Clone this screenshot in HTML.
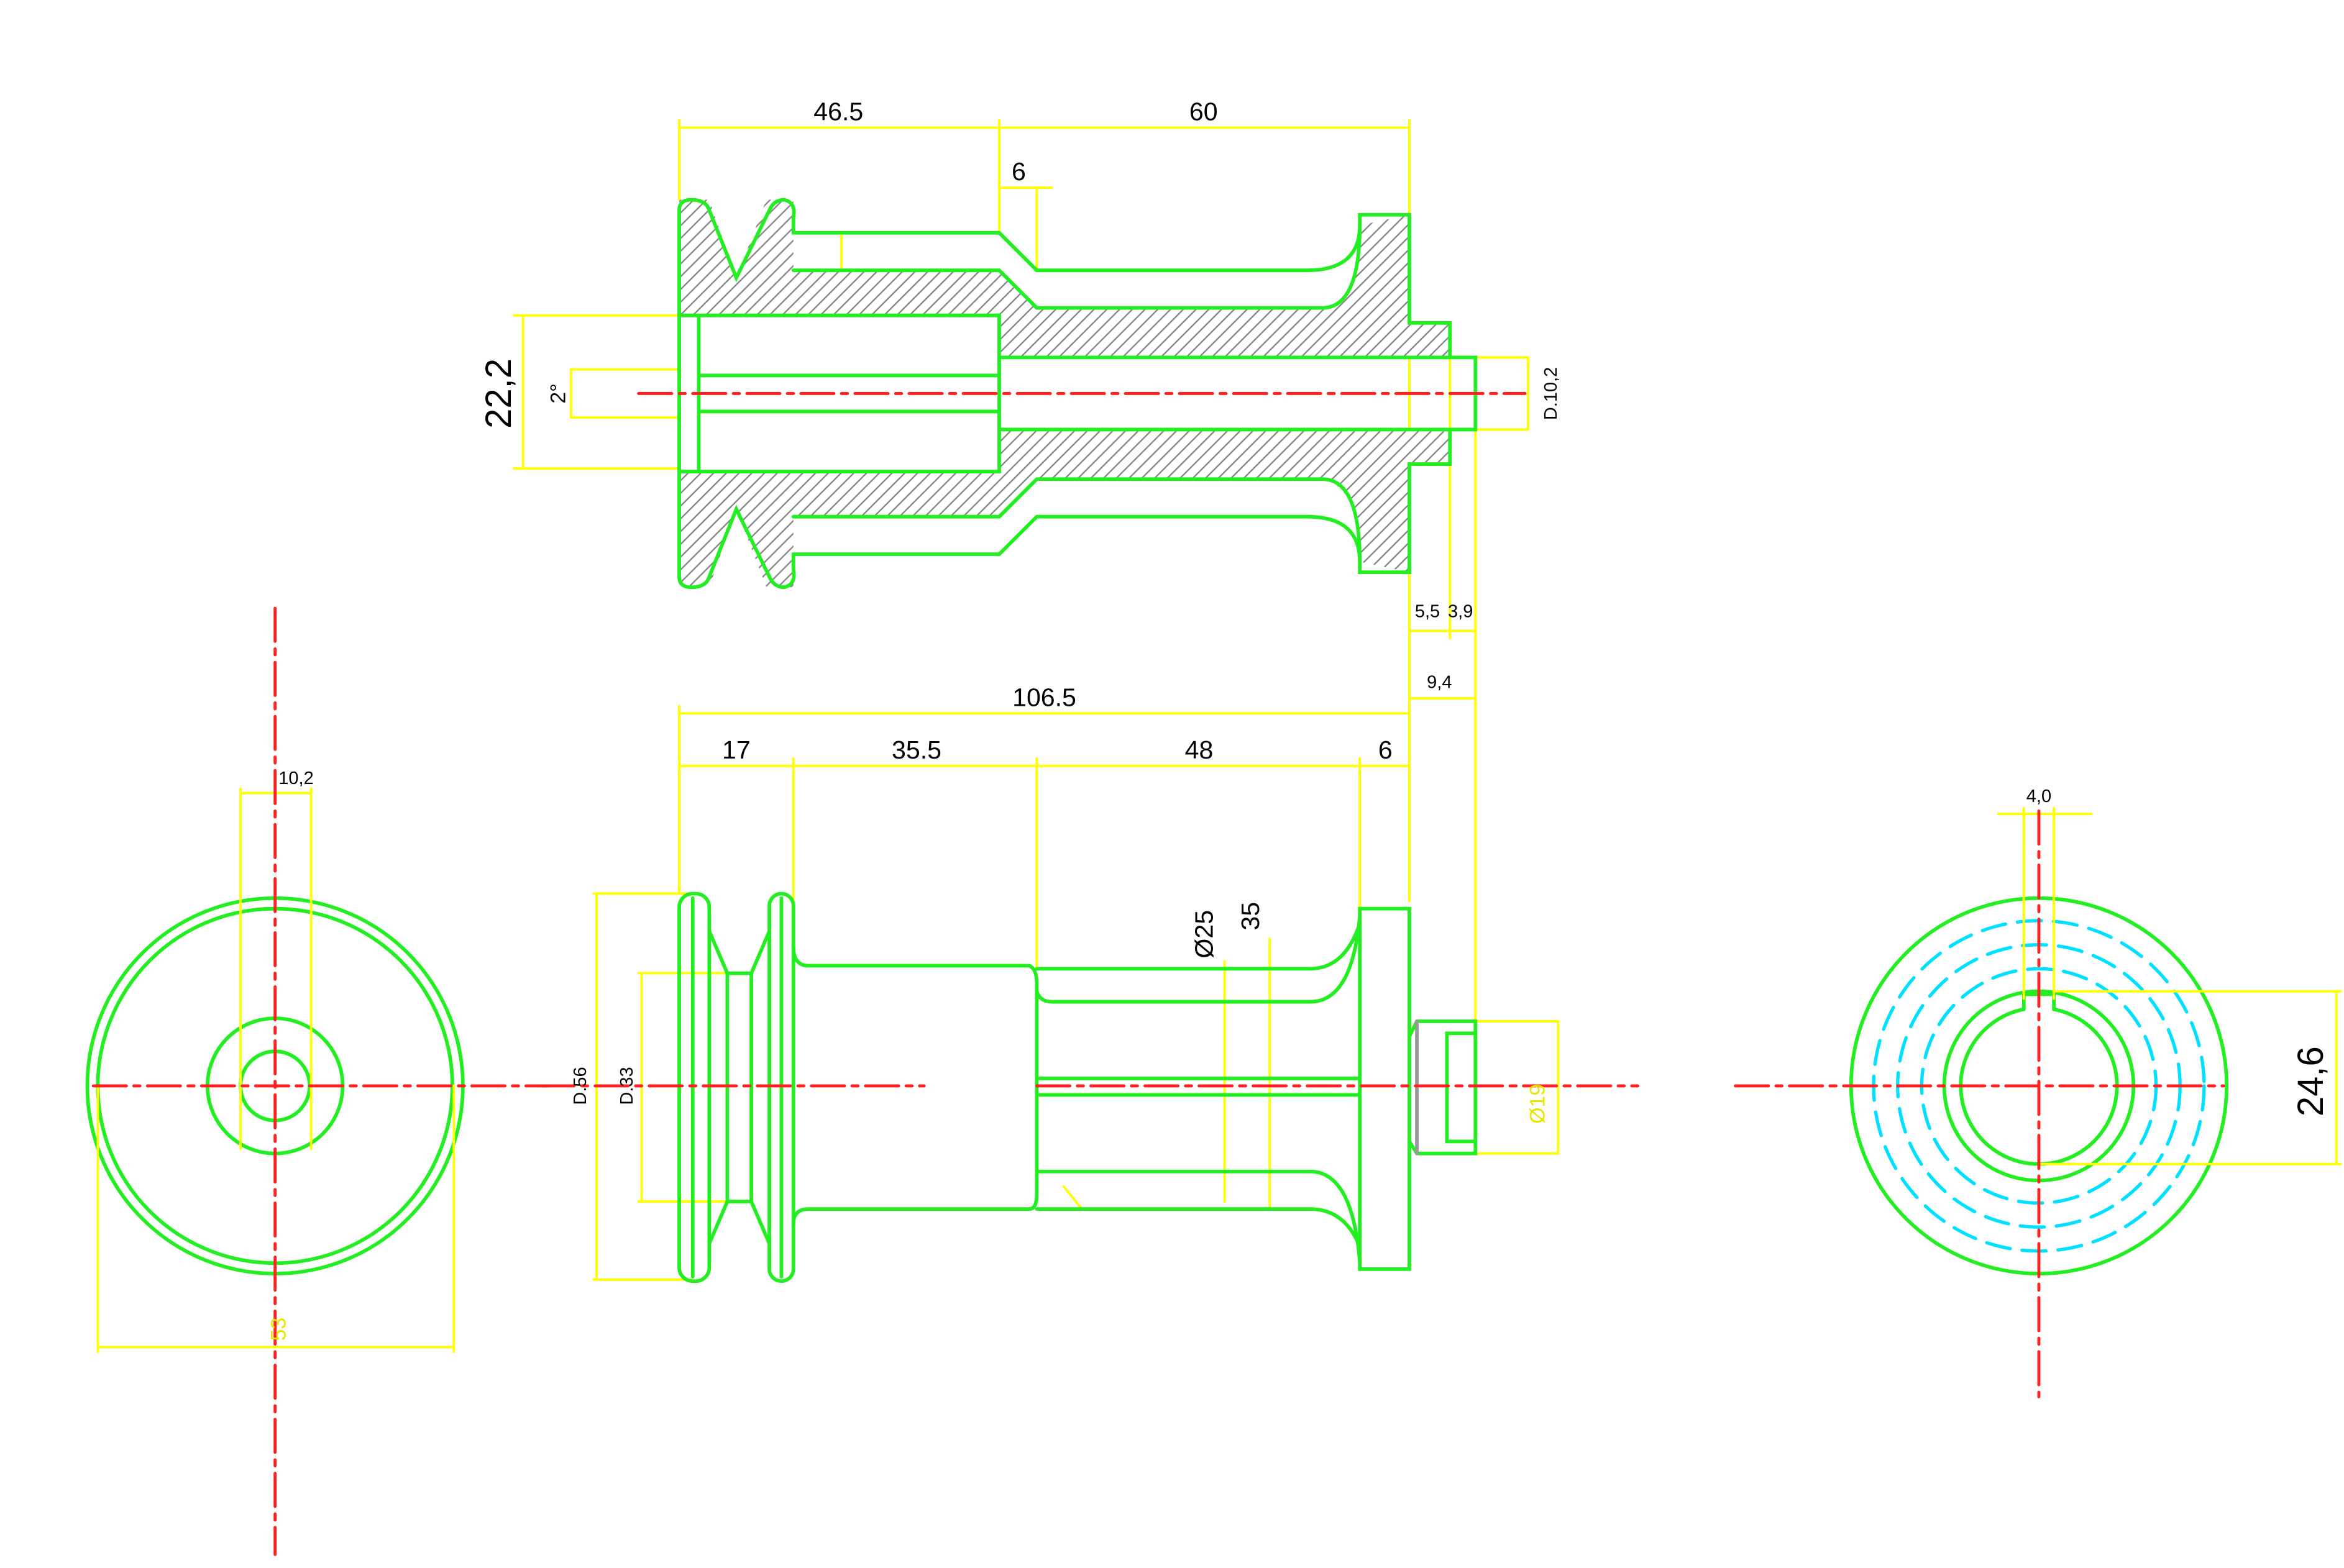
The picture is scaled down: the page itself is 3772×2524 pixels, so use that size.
<!DOCTYPE html>
<html><head><style>html,body{margin:0;padding:0;background:#fff}svg{display:block}</style></head>
<body>
<svg width="3772" height="2524" viewBox="0 0 1560 1044" xmlns="http://www.w3.org/2000/svg" font-family="Liberation Sans, sans-serif">
<defs>
<pattern id="h" width="6" height="6" patternUnits="userSpaceOnUse" patternTransform="rotate(45)">
<rect width="6" height="6" fill="#fff"/><line x1="0" y1="0" x2="0" y2="6" stroke="#888" stroke-width="2"/>
</pattern>
</defs>
<g fill="none" stroke-linecap="round">
<!-- TOP SECTION -->
<g stroke="#ffff00" stroke-width="1.6">
<line x1="452" y1="85" x2="938" y2="85"/><line x1="452" y1="80" x2="452" y2="133"/><line x1="938" y1="80" x2="938" y2="143"/><line x1="665" y1="80" x2="665" y2="155"/>
<line x1="665" y1="125" x2="700" y2="125"/><line x1="690" y1="125" x2="690" y2="180"/>
<line x1="348" y1="210" x2="348" y2="312"/><line x1="342" y1="210" x2="452" y2="210"/><line x1="342" y1="312" x2="452" y2="312"/>
<line x1="380" y1="246" x2="380" y2="278"/><line x1="380" y1="246" x2="452" y2="246"/><line x1="380" y1="278" x2="452" y2="278"/>
<rect x="965" y="238" width="52" height="48"/>
<line x1="938" y1="143" x2="938" y2="600"/><line x1="965" y1="290" x2="965" y2="425"/><line x1="982" y1="285" x2="982" y2="680"/>
<line x1="938" y1="420" x2="982" y2="420"/><line x1="938" y1="465" x2="982" y2="465"/>
<line x1="560" y1="155" x2="560" y2="210"/>
</g>
<path d="M452,133 L472,133 L490,185 L510,133 L528,133 L528,180 L665,180 L690,205 L880,205 Q905,200 905,150 L938,143 L938,215 L965,215 L965,238 L665,238 L665,210 L452,210 Z" fill="url(#h)" stroke="none"/>
<path d="M452,391 L472,391 L490,339 L510,391 L528,391 L528,344 L665,344 L690,319 L880,319 Q905,324 905,374 L938,381 L938,309 L965,309 L965,286 L665,286 L665,314 L452,314 Z" fill="url(#h)" stroke="none"/>
<g stroke="#22ee22" stroke-width="2.4">
<path d="M452,210 L452,140 Q452,133 460,133 Q470,133 472,140 L490,185 L512,140 Q515,133 522,133 Q530,135 528,145 L528,155 L665,155 L690,180 L870,180 Q905,180 905,150 L905,143 L938,143 L938,215 L965,215 L965,238 L982,238 L982,286 L965,286 L965,309 L938,309 L938,381 L905,381 L905,374 Q905,344 870,344 L690,344 L665,369 L528,369 L528,379 Q530,389 522,391 Q515,391 512,384 L490,339 L472,384 Q470,391 460,391 Q452,391 452,384 L452,314"/>
<path d="M528,180 L665,180 L690,205 L880,205 Q905,205 905,150"/>
<path d="M528,344 L665,344 L690,319 L880,319 Q905,319 905,374"/>
<path d="M452,210 L665,210 L665,314 L452,314 Z"/><line x1="465" y1="210" x2="465" y2="314"/>
<line x1="465" y1="250" x2="665" y2="250"/><line x1="465" y1="274" x2="665" y2="274"/>
<line x1="665" y1="238" x2="965" y2="238"/><line x1="665" y1="286" x2="965" y2="286"/>
</g>
<line x1="425" y1="262" x2="1015" y2="262" stroke="#ff2020" stroke-width="2" stroke-dasharray="22,5,4,5"/>

<!-- FRONT VIEW -->
<g stroke="#ffff00" stroke-width="1.6">
<line x1="452" y1="475" x2="938" y2="475"/><line x1="452" y1="510" x2="938" y2="510"/>
<line x1="452" y1="470" x2="452" y2="595"/><line x1="528" y1="505" x2="528" y2="640"/><line x1="690" y1="505" x2="690" y2="645"/><line x1="905" y1="505" x2="905" y2="605"/>
<line x1="397" y1="595" x2="397" y2="852"/><line x1="395" y1="595" x2="460" y2="595"/><line x1="395" y1="852" x2="460" y2="852"/>
<line x1="427" y1="648" x2="427" y2="800"/><line x1="425" y1="648" x2="495" y2="648"/><line x1="425" y1="800" x2="495" y2="800"/>
<line x1="815" y1="640" x2="815" y2="800"/><line x1="845" y1="625" x2="845" y2="805"/>
<rect x="982" y="680" width="55" height="88"/>
<line x1="708" y1="790" x2="720" y2="805"/>
</g>
<g stroke="#22ee22" stroke-width="2.4">
<rect x="452" y="595" width="20" height="258" rx="9"/><line x1="461" y1="598" x2="461" y2="850"/>
<path d="M472,620 L484,648 L484,800 L472,828"/><path d="M512,620 L500,648 L500,800 L512,828"/><line x1="484" y1="648" x2="500" y2="648"/><line x1="484" y1="800" x2="500" y2="800"/>
<rect x="512" y="595" width="16" height="258" rx="8"/><line x1="520" y1="598" x2="520" y2="850"/>
<path d="M528,630 Q528,643 538,643 L685,643 Q690,645 690,655 L690,795 Q690,805 685,805 L538,805 Q528,805 528,815"/>
<path d="M690,660 Q692,667 700,667 L872,667 Q900,667 905,610"/>
<path d="M690,645 L872,645 Q895,645 905,615"/>
<path d="M690,780 Q692,780 700,780 L872,780 Q900,780 905,840"/>
<path d="M690,805 L872,805 Q895,805 905,830"/>
<line x1="692" y1="718" x2="905" y2="718"/><line x1="692" y1="729" x2="905" y2="729"/>
<rect x="905" y="605" width="33" height="240"/>
<path d="M938,690 L943,680 L982,680 L982,768 L943,768 L938,760"/><line x1="943" y1="680" x2="943" y2="768" stroke="#999"/>
<rect x="963" y="688" width="19" height="72"/>
</g>
<line x1="360" y1="723" x2="615" y2="723" stroke="#ff2020" stroke-width="2" stroke-dasharray="22,5,4,5"/>
<line x1="690" y1="723" x2="1090" y2="723" stroke="#ff2020" stroke-width="2" stroke-dasharray="22,5,4,5"/>

<!-- LEFT END VIEW -->
<g stroke="#22ee22" stroke-width="2.4">
<circle cx="183" cy="723" r="125"/><circle cx="183" cy="723" r="118"/><circle cx="183" cy="723" r="45"/><circle cx="183" cy="723" r="23"/>
</g>
<g stroke="#ffff00" stroke-width="1.6">
<line x1="160" y1="525" x2="160" y2="765"/><line x1="207" y1="525" x2="207" y2="765"/><line x1="160" y1="528" x2="207" y2="528"/>
<line x1="65" y1="897" x2="302" y2="897"/><line x1="65" y1="723" x2="65" y2="900"/><line x1="302" y1="723" x2="302" y2="900"/>
</g>
<line x1="183" y1="405" x2="183" y2="1035" stroke="#ff2020" stroke-width="2" stroke-dasharray="22,5,4,5"/>
<line x1="62" y1="723" x2="365" y2="723" stroke="#ff2020" stroke-width="2" stroke-dasharray="22,5,4,5"/>

<!-- RIGHT END VIEW -->
<g stroke="#00e0ff" stroke-width="2.2" stroke-dasharray="16,8">
<circle cx="1357" cy="723" r="110"/><circle cx="1357" cy="723" r="94"/><circle cx="1357" cy="723" r="78"/>
</g>
<g stroke="#22ee22" stroke-width="2.4">
<circle cx="1357" cy="723" r="125"/><circle cx="1357" cy="723" r="63"/>
<path d="M1347,672 A52,52 0 1 0 1367,672"/><path d="M1347,672 L1347,662 L1367,662 L1367,672"/>
</g>
<g stroke="#ffff00" stroke-width="1.6">
<line x1="1330" y1="542" x2="1392" y2="542"/><line x1="1347" y1="538" x2="1347" y2="665"/><line x1="1367" y1="538" x2="1367" y2="665"/>
<line x1="1555" y1="660" x2="1555" y2="775"/><line x1="1367" y1="660" x2="1558" y2="660"/><line x1="1357" y1="775" x2="1558" y2="775"/>
</g>
<line x1="1357" y1="540" x2="1357" y2="930" stroke="#ff2020" stroke-width="2" stroke-dasharray="22,5,4,5"/>
<line x1="1155" y1="723" x2="1480" y2="723" stroke="#ff2020" stroke-width="2" stroke-dasharray="22,5,4,5"/>
</g>

<!-- TEXT -->
<g fill="#000" font-size="17" text-anchor="middle">
<text x="558" y="80">46.5</text><text x="801" y="80">60</text><text x="678" y="120">6</text>
<text x="695" y="470">106.5</text>
<text x="490" y="505">17</text><text x="610" y="505">35.5</text><text x="798" y="505">48</text><text x="922" y="505">6</text>
<text transform="translate(807,622) rotate(-90)">Ø25</text><text transform="translate(838,610) rotate(-90)">35</text>
</g>
<g fill="#000" font-size="12" text-anchor="middle">
<text x="950" y="411">5,5</text><text x="972" y="411">3,9</text><text x="958" y="458">9,4</text>
<text x="197" y="522">10,2</text><text x="1357" y="534">4,0</text>
<text transform="translate(1036,262) rotate(-90)">D.10,2</text>
<text transform="translate(390,723) rotate(-90)">D.56</text><text transform="translate(421,723) rotate(-90)">D.33</text>
<text transform="translate(376,262) rotate(-90)" font-size="14">2°</text>
</g>
<g fill="#000" font-size="24" text-anchor="middle">
<text transform="translate(340,262) rotate(-90)">22,2</text>
<text transform="translate(1546,720) rotate(-90)">24,6</text>
</g>
<g fill="#e6e600" font-size="14" text-anchor="middle">
<text transform="translate(1028,735) rotate(-90)">Ø19</text>
<text transform="translate(190,885) rotate(-90)">53</text>
</g>
</svg>
</body></html>
